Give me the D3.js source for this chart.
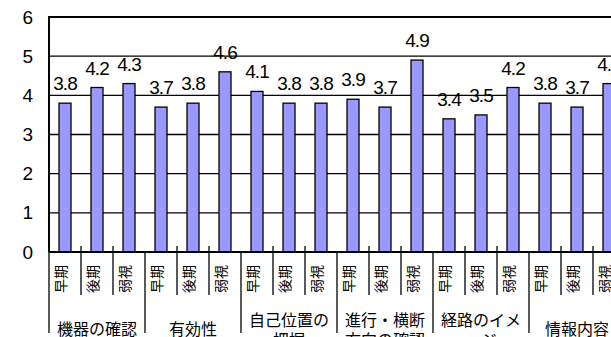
<!DOCTYPE html>
<html>
<head>
<meta charset="utf-8">
<script src="https://cdn.jsdelivr.net/npm/d3@7"></script>
<style>
  html, body { margin: 0; padding: 0; background: #fff; overflow: hidden; }
  svg { display: block; }
</style>
</head>
<body>
<svg id="chart" width="611" height="337"></svg>
<script>
// Survey items, each rated by three respondent groups
const groups = ["機器の確認", "有効性", "自己位置の把握", "進行・横断方向の確認", "経路のイメージ", "情報内容"];
const subgroups = ["早期", "後期", "弱視"];
// Mean scores, in order group by group, subgroup by subgroup
const values = [3.8, 4.2, 4.3, 3.7, 3.8, 4.6, 4.1, 3.8, 3.8, 3.9, 3.7, 4.9, 3.4, 3.5, 4.2, 3.8, 3.7, 4.3];
const yTicks = [0, 1, 2, 3, 4, 5, 6];

const svg = d3.select("#chart");
const plotLeft = 49, plotTop = 17, plotBottom = 252;
const step = 32;
const plotRight = plotLeft + step * values.length;   // runs past the viewport edge

const cats = values.map((v, i) => i);
const x = d3.scaleBand().domain(cats).range([plotLeft, plotRight])
  .paddingInner(0.625).paddingOuter(0.3125);
const y = d3.scaleLinear().domain([0, 6]).range([plotBottom, plotTop]);

const numFont = "'Liberation Sans', Arial, sans-serif";
const jpFont = "'Noto Sans CJK JP', sans-serif";

// horizontal grid lines
svg.append("g").selectAll("line").data(yTicks.filter(t => t > 0)).join("line")
  .attr("x1", plotLeft).attr("x2", plotRight)
  .attr("y1", d => y(d)).attr("y2", d => y(d))
  .attr("stroke", "#000").attr("stroke-width", d => d === 6 ? 2 : 1.3);

// y axis labels
const yAxis = d3.axisLeft(y).tickValues(yTicks).tickSize(0).tickPadding(16).tickFormat(d3.format("d"));
const gy = svg.append("g").attr("transform", `translate(${plotLeft},0)`).call(yAxis);
gy.select(".domain").remove();
gy.selectAll("text").attr("font-family", numFont).attr("font-size", 19).attr("fill", "#000");

// bars
svg.append("g").selectAll("rect").data(values).join("rect")
  .attr("x", (d, i) => x(i)).attr("width", x.bandwidth())
  .attr("y", d => y(d)).attr("height", d => y(0) - y(d))
  .attr("fill", "#9999ff").attr("stroke", "#000").attr("stroke-width", 1.3);

// value labels
svg.append("g").selectAll("text").data(values).join("text")
  .attr("x", (d, i) => x(i) + x.bandwidth() / 2)
  .attr("y", d => y(d) - 13)
  .attr("text-anchor", "middle")
  .attr("font-family", numFont).attr("font-size", 19).attr("letter-spacing", -1)
  .attr("fill", "#000")
  .text(d => d.toFixed(1));

// axes lines
svg.append("line").attr("x1", plotLeft).attr("x2", plotLeft).attr("y1", plotTop - 1).attr("y2", plotBottom)
  .attr("stroke", "#000").attr("stroke-width", 2);
svg.append("line").attr("x1", plotLeft).attr("x2", plotRight).attr("y1", plotBottom).attr("y2", plotBottom)
  .attr("stroke", "#000").attr("stroke-width", 2);

// category boundary ticks: short for subgroups, long for groups
const bounds = d3.range(values.length + 1);
svg.append("g").selectAll("line").data(bounds).join("line")
  .attr("x1", i => plotLeft + i * step).attr("x2", i => plotLeft + i * step)
  .attr("y1", i => i % 3 === 0 ? plotBottom : plotBottom - 6)
  .attr("y2", i => i % 3 === 0 ? 333 : 295)
  .attr("stroke", "#000").attr("stroke-width", 1.3);

// subgroup labels, rotated
const subLabels = cats.map(i => subgroups[i % 3]);
svg.append("g").selectAll("text").data(subLabels).join("text")
  .attr("transform", (d, i) => `translate(${x(i) + x.bandwidth() / 2 - 5},279) rotate(-90)`)
  .attr("text-anchor", "middle").attr("dominant-baseline", "central")
  .attr("font-family", jpFont).attr("font-size", 14).attr("fill", "#000")
  .text(d => d);

// group labels, wrapped every five characters
const gl = svg.append("g").selectAll("text").data(groups).join("text")
  .attr("x", (d, i) => plotLeft + (i * 3 + 1.5) * step)
  .attr("y", d => d.length > 5 ? 326 : 335)
  .attr("text-anchor", "middle")
  .attr("font-family", jpFont).attr("font-size", 16).attr("fill", "#000");
gl.each(function(d) {
  const lines = [];
  for (let k = 0; k < d.length; k += 5) lines.push(d.slice(k, k + 5));
  const t = d3.select(this);
  const x0 = t.attr("x");
  lines.forEach((ln, j) => {
    t.append("tspan").attr("x", x0).attr("dy", j === 0 ? 0 : 20).text(ln);
  });
});
</script>
</body>
</html>
